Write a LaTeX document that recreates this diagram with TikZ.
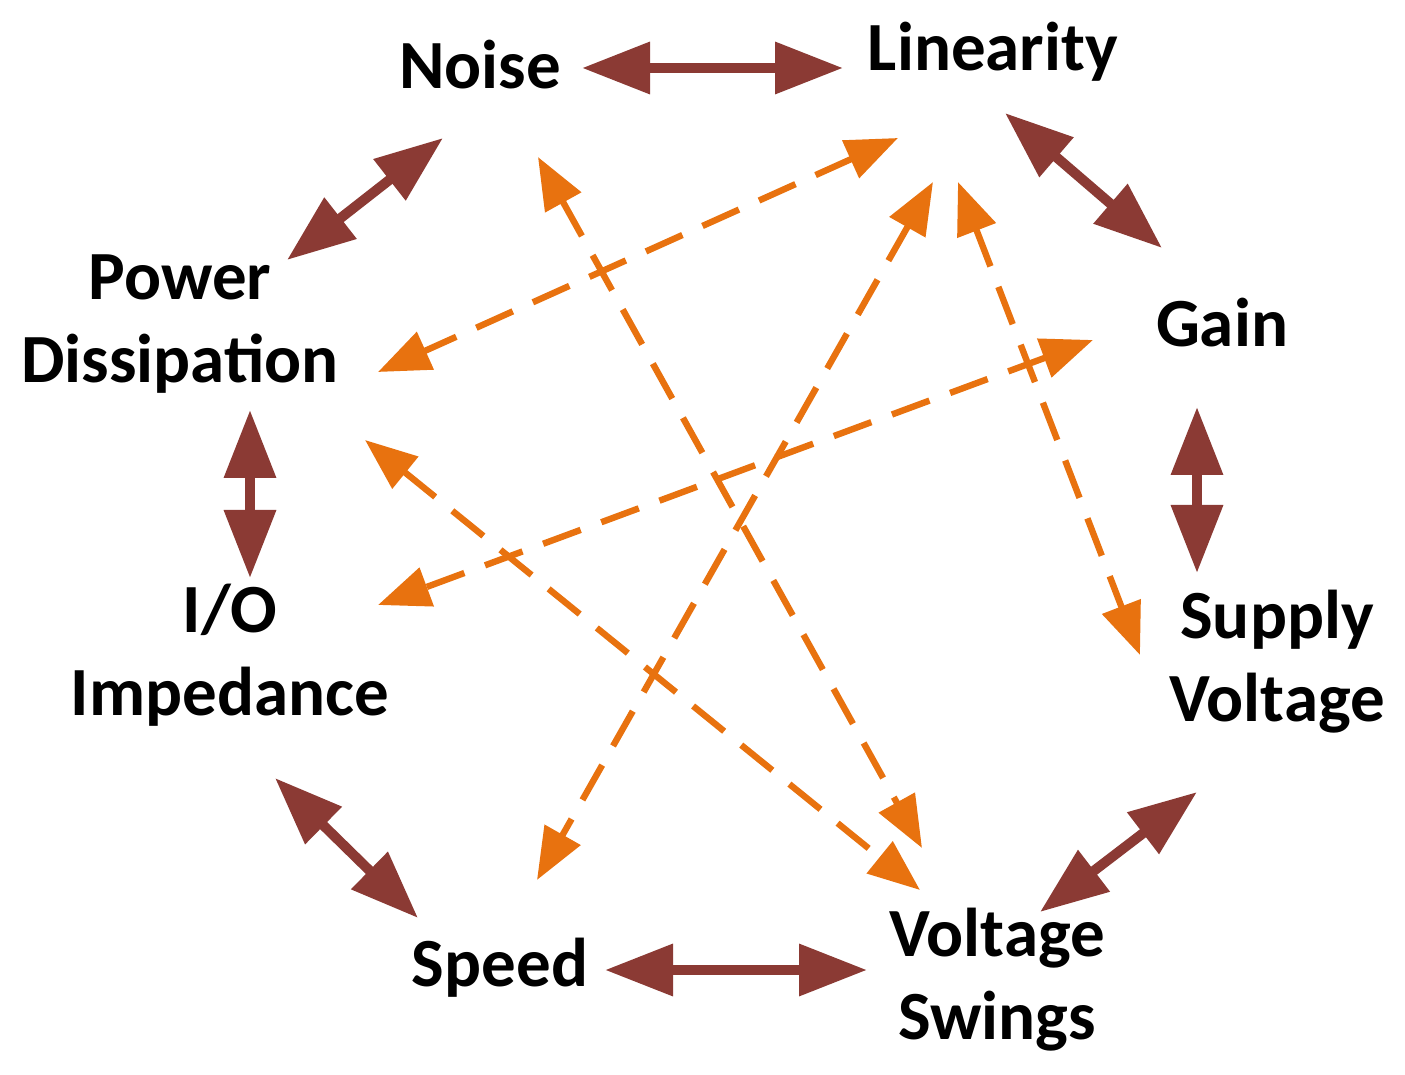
\documentclass[tikz,border=0pt]{standalone}
\usepackage{fontspec}
\setmainfont{Carlito}
\usetikzlibrary{arrows.meta}
\definecolor{brn}{HTML}{8B3A34}
\definecolor{org}{HTML}{E8720F}
\begin{document}
\begin{tikzpicture}[x=0.5pt,y=-0.5pt,
 lbl/.style={font=\bfseries\fontsize{34.5}{41.5}\selectfont,align=center,inner sep=0pt},
 bro/.style={draw=brn,line width=5pt,{Triangle[width=25pt,length=34pt]}-{Triangle[width=25pt,length=34pt]},color=brn},
 ora/.style={draw=org,line width=3.2pt,dash pattern=on 20pt off 11pt,{Triangle[width=20pt,length=26pt]}-{Triangle[width=20pt,length=26pt]},color=org}]
\useasboundingbox (0,0) rectangle (1405,1075);
\node[lbl] (noise) at (480,65) {Noise};
\node[lbl] (lin) at (993,52) {Linearity};
\node[lbl] (gain) at (1222,323) {Gain};
\node[lbl] (pow) at (180,324) {Power\\Dissipation};
\node[lbl] (sup) at (1277,662) {Supply\\Voltage};
\node[lbl] (io) at (230,655) {I/O\\Impedance};
\node[lbl] (spd) at (500,968) {Speed};
\node[lbl] (vs) at (997,980) {Voltage\\Swings};
\foreach \n/\x/\y in {a1/582/68,a2/843/68,b1/443/138,b2/287/260,c1/1005/113,c2/1162/248,d1/250/410,d2/250/578,e1/1197/407,e2/1197/573,f1/275/778,f2/418/918,g1/605/970,g2/867/970,h1/1197/792,h2/1040/912,
 o1/898/138,o2/378/372,p1/1093/340,p2/378/605,q1/538/157,q2/922/848,r1/365/440,r2/920/890,s1/933/182,s2/537/880,t1/958/182,t2/1140/655}
 \coordinate (\n) at (\x,\y);
\draw[bro] (a1) -- (a2);
\draw[bro] (b1) -- (b2);
\draw[bro] (c1) -- (c2);
\draw[bro] (d1) -- (d2);
\draw[bro] (e1) -- (e2);
\draw[bro] (f1) -- (f2);
\draw[bro] (g1) -- (g2);
\draw[bro] (h1) -- (h2);
\draw[ora] (o1) -- (o2);
\draw[ora] (p1) -- (p2);
\draw[ora] (q1) -- (q2);
\draw[ora] (r1) -- (r2);
\draw[ora] (s1) -- (s2);
\draw[ora] (t1) -- (t2);
\end{tikzpicture}
\end{document}
